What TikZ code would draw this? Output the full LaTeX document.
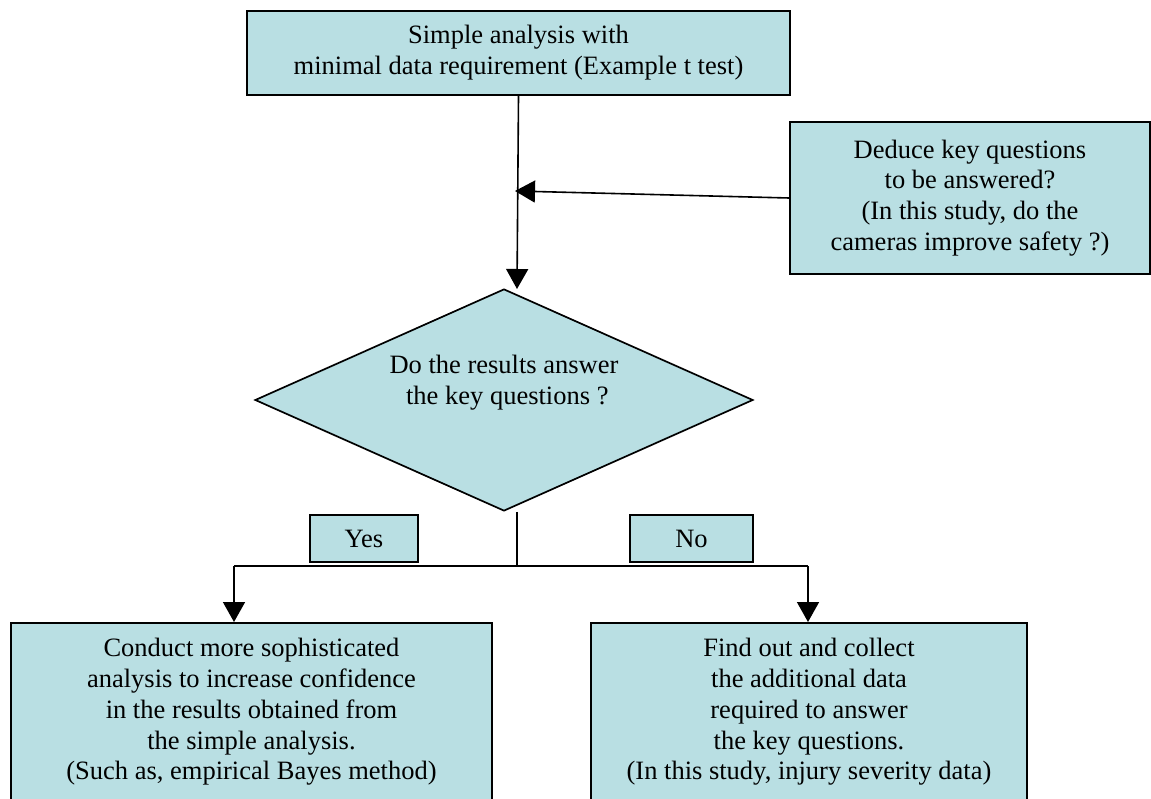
\documentclass[tikz,border=0pt]{standalone}
\usepackage{fontspec}
\setmainfont{Liberation Serif}
\usetikzlibrary{shapes.geometric,arrows.meta}
\definecolor{boxfill}{RGB}{185,223,227}
\begin{document}
\begin{tikzpicture}[x=1pt,y=-1pt,
  font=\fontsize{26.5}{30.75}\selectfont,
  box/.style={draw=black, fill=boxfill, line width=1.7pt, align=center, inner sep=0pt},
  txt/.style={align=center, inner sep=0pt},
  conn/.style={line width=1.6pt, -{Triangle[length=20pt,width=22pt]}},
  plain/.style={line width=1.6pt}]
\useasboundingbox (0,0) rectangle (1151,799);
\clip (0,0) rectangle (1151,799);

\node[box, minimum width=543pt, minimum height=84pt] (top) at (518.5,53)
  {Simple analysis with\\minimal data requirement (Example t test)};
\node[box, minimum width=360pt, minimum height=152pt] (deduce) at (970,198)
  {Deduce key questions\\to be answered?\\(In this study, do the\\cameras improve safety ?)};
\node[box, shape=diamond, minimum width=498pt, minimum height=222pt] (dia) at (504,400) {};
\node[txt] (diatext) at (504,383) {Do the results answer\\\ the key questions ?};
\node[box, minimum width=108pt, minimum height=47pt] (yes) at (364,538.5) {Yes};
\node[box, minimum width=123pt, minimum height=47pt] (no) at (691.5,538.5) {No};
\node[box, minimum width=481pt, minimum height=220pt, anchor=north] (left) at (251.5,622) {};
\node[txt] (lefttext) at (251.5,712) {Conduct more sophisticated\\analysis to increase confidence\\in the results obtained from\\the simple analysis.\\(Such as, empirical Bayes method)};
\node[box, minimum width=436pt, minimum height=220pt, anchor=north] (right) at (809,622) {};
\node[txt] (righttext) at (809,712) {Find out and collect\\the additional data\\required to answer\\the key questions.\\(In this study, injury severity data)};

\coordinate (intop) at (517,289);
\coordinate (inmid) at (515,191);
\coordinate (fork) at (517,566);
\coordinate (forkl) at (234,566);
\coordinate (forkr) at (808,566);

\draw[conn] (top.south) -- (intop);
\draw[conn] (deduce.west) -- (inmid);
\draw[plain] (fork |- dia.south) -- (fork);
\draw[plain] (forkl) -- (forkr);
\draw[conn] (forkl) -- (forkl |- left.north);
\draw[conn] (forkr) -- (forkr |- right.north);
\end{tikzpicture}
\end{document}
